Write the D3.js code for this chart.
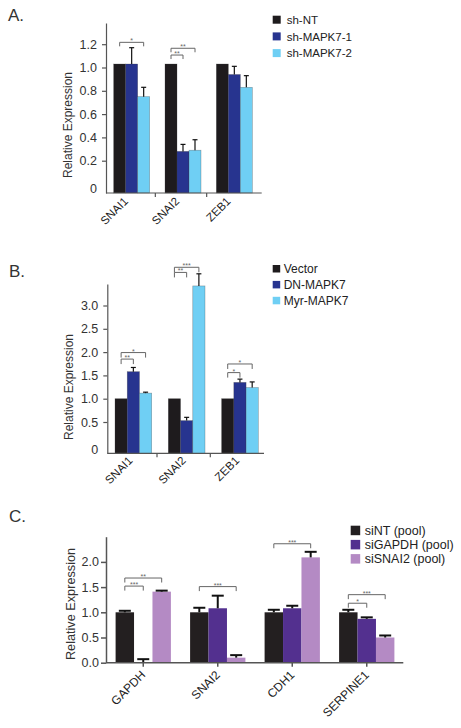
<!DOCTYPE html>
<html><head><meta charset="utf-8">
<script src="https://cdn.jsdelivr.net/npm/d3@7"></script>
<style>html,body{margin:0;padding:0;background:#fff;}svg{display:block;}</style>
</head><body><svg id="c" width="461" height="728"></svg>
<script>
// ---------- Panel A data ----------
const catsA = ["SNAI1", "SNAI2", "ZEB1"];
const seriesA = ["sh-NT", "sh-MAPK7-1", "sh-MAPK7-2"];
const valsA_NT = [1.03, 1.03, 1.03];
const errA_NT = [0, 0, 0];
const valsA_M1 = [1.03, 0.28, 0.94];
const errA_M1 = [0.14, 0.06, 0.07];
const valsA_M2 = [0.75, 0.29, 0.83];
const errA_M2 = [0.08, 0.09, 0.10];
const ticksA = [0, 0.2, 0.4, 0.6, 0.8, 1.0, 1.2];
const tickLabelsA = ["0", "0.2", "0.4", "0.6", "0.8", "1.0", "1.2"];
const sigA_cat = ["SNAI1", "SNAI2", "SNAI2"];
const sigA_from = [0, 0, 0];
const sigA_to = [2, 2, 1];
const sigA_level = [1.216, 1.165, 1.107];
const sigA_label = ["*", "**", "**"];

// ---------- Panel B data ----------
const catsB = ["SNAI1", "SNAI2", "ZEB1"];
const seriesB = ["Vector", "DN-MAPK7", "Myr-MAPK7"];
const valsB_Vec = [1.0, 1.0, 1.0];
const errB_Vec = [0, 0, 0];
const valsB_DN = [1.58, 0.53, 1.35];
const errB_DN = [0.09, 0.07, 0.07];
const valsB_Myr = [1.12, 3.42, 1.24];
const errB_Myr = [0.02, 0.26, 0.12];
const ticksB = [0, 0.5, 1.0, 1.5, 2.0, 2.5, 3.0];
const tickLabelsB = ["0", "0.5", "1.0", "1.5", "2.0", "2.5", "3.0"];
const sigB_cat = ["SNAI1", "SNAI1", "SNAI2", "SNAI2", "ZEB1", "ZEB1"];
const sigB_from = [0, 0, 0, 0, 0, 0];
const sigB_to = [2, 1, 2, 1, 2, 1];
const sigB_level = [1.99, 1.85, 3.82, 3.71, 1.745, 1.56];
const sigB_label = ["*", "**", "***", "**", "*", "*"];

// ---------- Panel C data ----------
const catsC = ["GAPDH", "SNAI2", "CDH1", "SERPINE1"];
const seriesC = ["siNT (pool)", "siGAPDH (pool)", "siSNAI2 (pool)"];
const valsC_NT = [1.0, 1.0, 1.0, 1.0];
const errC_NT = [0.03, 0.09, 0.05, 0.05];
const valsC_G = [0.0, 1.08, 1.08, 0.87];
const errC_G = [0.07, 0.25, 0.05, 0.03];
const valsC_S = [1.41, 0.10, 2.09, 0.50];
const errC_S = [0.02, 0.05, 0.11, 0.04];
const ticksC = [0, 0.5, 1.0, 1.5, 2.0];
const tickLabelsC = ["0.0", "0.5", "1.0", "1.5", "2.0"];
const sigC_cat = ["GAPDH", "GAPDH", "SNAI2", "CDH1", "SERPINE1", "SERPINE1"];
const sigC_from = [0, 0, 0, 0, 0, 0];
const sigC_to = [2, 1, 2, 2, 2, 1];
const sigC_level = [1.68, 1.52, 1.51, 2.36, 1.35, 1.18];
const sigC_label = ["**", "***", "***", "***", "***", "*"];

const FONT = "'Liberation Sans', Arial, Helvetica, sans-serif";
const svg = d3.select("#c");

function panel(cfg) {
  const g = svg.append("g");
  const y = d3.scaleLinear().domain(cfg.tickFitDomain).range(cfg.tickFitRange);
  y.domain([y.invert(cfg.bottom), y.invert(cfg.top)]).range([cfg.bottom, cfg.top]);
  const x = d3.scaleBand().domain(cfg.cats).range(cfg.xRange);
  const sub = d3.scaleBand().domain(d3.range(cfg.series.length)).range([0, cfg.groupW]);
  const off = (x.bandwidth() - cfg.groupW) / 2;
  const barX = (c, s) => x(c) + off + sub(s);
  const barC = (c, s) => barX(c, s) + sub.bandwidth() / 2;

  g.append("text").attr("x", cfg.letterX).attr("y", cfg.letterY)
    .attr("font-family", FONT).attr("font-size", 17).attr("fill", "#333").text(cfg.letter);

  cfg.vals.forEach((vals, s) => {
    g.selectAll(null).data(cfg.cats).enter().append("rect")
      .attr("x", (c) => barX(c, s))
      .attr("width", sub.bandwidth())
      .attr("y", (c, i) => y(vals[i]))
      .attr("height", (c, i) => cfg.bottom - y(vals[i]))
      .attr("fill", cfg.colors[s])
      .attr("stroke", cfg.barStroke || "none")
      .attr("stroke-width", 0.6);
  });
  cfg.errs.forEach((errs, s) => {
    const vals = cfg.vals[s];
    const d = cfg.cats.map((c, i) => ({ c, v: vals[i], e: errs[i] })).filter(o => o.e > 0);
    const eg = g.selectAll(null).data(d).enter().append("g")
      .attr("stroke", "#111").attr("stroke-width", cfg.errW);
    eg.append("line").attr("x1", o => barC(o.c, s)).attr("x2", o => barC(o.c, s))
      .attr("y1", o => y(o.v)).attr("y2", o => y(o.v + o.e));
    eg.append("line").attr("x1", o => barC(o.c, s) - cfg.capW / 2).attr("x2", o => barC(o.c, s) + cfg.capW / 2)
      .attr("y1", o => y(o.v + o.e)).attr("y2", o => y(o.v + o.e));
  });

  const ya = d3.axisLeft(y).tickValues(cfg.ticks).tickSize(cfg.tickLen).tickSizeOuter(0)
    .tickPadding(cfg.tickPad).tickFormat((d, i) => cfg.tickLabels[i]);
  const yg = g.append("g").attr("transform", `translate(${cfg.axisX},0)`).call(ya);
  yg.select(".domain").attr("stroke", cfg.axisColor).attr("stroke-width", cfg.axisW);
  yg.selectAll(".tick line").attr("stroke", cfg.axisColor).attr("stroke-width", cfg.axisW);
  yg.selectAll(".tick text").attr("font-family", FONT).attr("font-size", cfg.tickFont).attr("fill", "#333");
  if (cfg.zeroNoTick) {
    yg.selectAll(".tick").filter(d => d === 0).select("line").remove();
    yg.selectAll(".tick").filter(d => d === 0).select("text").attr("dy", "0.32em")
      .attr("y", cfg.zeroShift);
  }
  g.append("text").attr("transform", `translate(${cfg.titleX},${cfg.titleY}) rotate(-90)`)
    .attr("text-anchor", "middle").attr("font-family", FONT).attr("font-size", cfg.titleFont)
    .attr("fill", "#333").text("Relative Expression");

  g.append("line").attr("x1", cfg.axisX).attr("x2", cfg.axisEnd)
    .attr("y1", cfg.bottom).attr("y2", cfg.bottom)
    .attr("stroke", cfg.axisColor).attr("stroke-width", cfg.axisW);
  const tickXs = cfg.xTicksAtCenters ? cfg.cats.map(c => x(c) + x.bandwidth() / 2)
                                     : cfg.cats.slice(1).map(c => x(c) + cfg.sepShift);
  g.selectAll(null).data(tickXs).enter().append("line")
    .attr("x1", d => d).attr("x2", d => d).attr("y1", cfg.bottom).attr("y2", cfg.bottom + 4)
    .attr("stroke", cfg.axisColor).attr("stroke-width", cfg.axisW);
  g.selectAll(null).data(cfg.cats).enter().append("text")
    .attr("transform", c => `translate(${x(c) + x.bandwidth() / 2 + cfg.labDx},${cfg.bottom + cfg.labDy}) rotate(-45)`)
    .attr("text-anchor", "end").attr("font-family", FONT).attr("font-size", cfg.labFont)
    .attr("fill", "#222").text(c => c);

  const sig = cfg.sigCat.map((c, i) => ({ c, a: cfg.sigFrom[i], b: cfg.sigTo[i], lv: cfg.sigLevel[i], t: cfg.sigLabel[i] }));
  const sg = g.selectAll(null).data(sig).enter().append("g");
  sg.append("path").attr("fill", "none").attr("stroke", "#666").attr("stroke-width", 1)
    .attr("d", o => {
      const x1 = barC(o.c, o.a), x2 = barC(o.c, o.b), yy = y(o.lv);
      return `M${x1},${yy + cfg.legLen}V${yy}H${x2}V${yy + cfg.legLen}`;
    });
  sg.append("text").attr("x", o => (barC(o.c, o.a) + barC(o.c, o.b)) / 2)
    .attr("y", o => y(o.lv) + 1).attr("text-anchor", "middle")
    .attr("font-family", FONT).attr("font-size", 7).attr("fill", "#666").text(o => o.t);

  const lg = g.selectAll(null).data(cfg.series).enter().append("g")
    .attr("transform", (d, i) => `translate(${cfg.legX},${cfg.legY + i * cfg.legStep})`);
  lg.append("rect").attr("width", cfg.legSq).attr("height", cfg.legSq).attr("fill", (d, i) => cfg.colors[i]);
  lg.append("text").attr("x", cfg.legSq + cfg.legGap).attr("y", cfg.legSq / 2).attr("dy", "0.36em")
    .attr("font-family", FONT).attr("font-size", cfg.legFont).attr("fill", "#222").text(d => d);
}

const blues = ["#1e1b1d", "#27348f", "#6fcff4"];
const purples = ["#231f20", "#53308f", "#b48ac4"];

panel({
  letter: "A.", letterX: 8, letterY: 21,
  cats: catsA, series: seriesA, colors: blues, barStroke: "rgba(60,60,60,0.45)",
  vals: [valsA_NT, valsA_M1, valsA_M2], errs: [errA_NT, errA_M1, errA_M2],
  tickFitDomain: [0, 1.2], tickFitRange: [184, 44.2],
  top: 23, bottom: 193, axisX: 106, axisEnd: 261.7, xRange: [106, 260], groupW: 36,
  ticks: ticksA, tickLabels: tickLabelsA, tickLen: 4, tickPad: 5, tickFont: 12.5,
  zeroNoTick: true, zeroShift: 4,
  axisColor: "#555", axisW: 1.2, errW: 1.2, capW: 5,
  titleX: 72, titleY: 125, titleFont: 12,
  sepShift: -2, labDx: -3, labDy: 9, labFont: 11.5,
  sigCat: sigA_cat, sigFrom: sigA_from, sigTo: sigA_to, sigLevel: sigA_level, sigLabel: sigA_label, legLen: 4,
  legX: 272.7, legY: 15.7, legStep: 16.7, legSq: 8, legGap: 6, legFont: 11.5
});

panel({
  letter: "B.", letterX: 9, letterY: 277,
  cats: catsB, series: seriesB, colors: blues, barStroke: "rgba(60,60,60,0.45)",
  vals: [valsB_Vec, valsB_DN, valsB_Myr], errs: [errB_Vec, errB_DN, errB_Myr],
  tickFitDomain: [0, 3], tickFitRange: [445.3, 305.5],
  top: 284, bottom: 453.3, axisX: 107.3, axisEnd: 264, xRange: [106.7, 266.6], groupW: 36.7,
  ticks: ticksB, tickLabels: tickLabelsB, tickLen: 4, tickPad: 5, tickFont: 12.5,
  zeroNoTick: true, zeroShift: 4,
  axisColor: "#555", axisW: 1.2, errW: 1.2, capW: 5,
  titleX: 73, titleY: 387, titleFont: 12,
  sepShift: -3, labDx: 0, labDy: 8, labFont: 11.5,
  sigCat: sigB_cat, sigFrom: sigB_from, sigTo: sigB_to, sigLevel: sigB_level, sigLabel: sigB_label, legLen: 5,
  legX: 272.7, legY: 265, legStep: 15.9, legSq: 7.5, legGap: 3.5, legFont: 12
});

panel({
  letter: "C.", letterX: 9, letterY: 522,
  cats: catsC, series: seriesC, colors: purples, barStroke: null,
  vals: [valsC_NT, valsC_G, valsC_S], errs: [errC_NT, errC_G, errC_S],
  tickFitDomain: [0, 2.5], tickFitRange: [662.7, 536.7],
  top: 536.7, bottom: 662.7, axisX: 106, axisEnd: 403.3, xRange: [106, 404], groupW: 55.3,
  ticks: ticksC, tickLabels: tickLabelsC, tickLen: 5, tickPad: 2, tickFont: 12.5,
  zeroNoTick: false,
  axisColor: "#555", axisW: 1.5, errW: 2, capW: 12,
  titleX: 75, titleY: 604, titleFont: 12.7,
  xTicksAtCenters: true, labDx: 3, labDy: 13, labFont: 12,
  sigCat: sigC_cat, sigFrom: sigC_from, sigTo: sigC_to, sigLevel: sigC_level, sigLabel: sigC_label, legLen: 4.5,
  legX: 350.7, legY: 525.7, legStep: 14.2, legSq: 9.5, legGap: 4.5, legFont: 12.5
});
</script></body></html>
